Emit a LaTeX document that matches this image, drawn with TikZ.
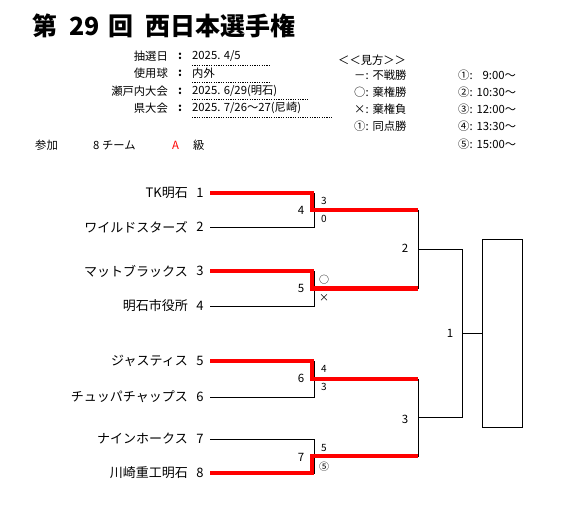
\documentclass[tikz,border=0pt]{standalone}
\usepackage{fontspec}
\setmainfont{Noto Sans CJK JP}
\begin{document}
\begin{tikzpicture}[x=1pt,y=-1pt,
  bl/.style={line width=0.8pt, black},
  win/.style={line width=4.5pt, red, line join=miter},
  tname/.style={anchor=east, inner sep=0pt, font=\fontsize{13}{13}\selectfont},
  tnum/.style={inner sep=0pt, font=\fontsize{13}{13}\selectfont},
  mnum/.style={inner sep=0pt, font=\fontsize{11.5}{11.5}\selectfont},
  score/.style={inner sep=0pt, font=\fontsize{10}{10}\selectfont},
  info/.style={inner sep=0pt, font=\fontsize{11.3}{11.3}\selectfont},
  dotl/.style={line width=0.6pt, dash pattern=on 1.2pt off 1.2pt},
]
\useasboundingbox (0,0) rectangle (563,516);
% title
\node[anchor=west, inner sep=0pt, font=\fontsize{25}{25}\selectfont\bfseries] (title) at (32,26) {第\hspace{12pt}29\hspace{9pt}回\hspace{12pt}西日本選手権};
% info
\node[info, anchor=east] (l1) at (168,56) {抽選日};
\node[info, anchor=east] (l2) at (168,73) {使用球};
\node[info, anchor=east] (l3) at (168,91) {瀬戸内大会};
\node[info, anchor=east] (l4) at (168,108) {県大会};
\foreach \y/\n in {56/c1,73/c2,91/c3,108/c4} \node[info, font=\fontsize{11.3}{11.3}\selectfont\bfseries] (\n) at (180,\y) {:};
\node[info, anchor=west] (v1) at (192,56) {2025. 4/5};
\node[info, anchor=west] (v2) at (192,73) {内外};
\node[info, anchor=west] (v3) at (192,91) {2025. 6/29(明石)};
\node[info, anchor=west] (v4) at (192,108) {2025. 7/26～27(尼崎)};
\coordinate (d1a) at (192,65); \coordinate (d1b) at (271,65);
\coordinate (d2a) at (192,82); \coordinate (d2b) at (271,82);
\coordinate (d3a) at (192,99); \coordinate (d3b) at (309,99);
\coordinate (d4a) at (192,117); \coordinate (d4b) at (333,117);
\draw[dotl] (d1a) -- (d1b);
\draw[dotl] (d2a) -- (d2b);
\draw[dotl] (d3a) -- (d3b);
\draw[dotl] (d4a) -- (d4b);
\node[info, anchor=west] (sanka) at (35,145) {参加};
\node[info, anchor=west] (teams) at (93,145) {8 チーム};
\node[info, anchor=west, text=red] (cls) at (172,145) {A};
\node[info, anchor=west] (kyu) at (193,145) {級};
% legend
\node[info, anchor=west] (lg) at (338,60) {＜＜見方＞＞};
\node[info, anchor=west] (lg1) at (354,75) {－:\hspace{4pt}不戦勝};
\node[info, anchor=west] (lg2) at (354,92) {○:\hspace{4pt}棄権勝};
\node[info, anchor=west] (lg3) at (354,109) {×:\hspace{4pt}棄権負};
\node[info, anchor=west] (lg4) at (354,126) {①:\hspace{4pt}同点勝};
\node[info, anchor=west] (tm1) at (458,75) {①:\hspace{10pt}9:00～};
\node[info, anchor=west] (tm2) at (458,92) {②:\hspace{4pt}10:30～};
\node[info, anchor=west] (tm3) at (458,109) {③:\hspace{4pt}12:00～};
\node[info, anchor=west] (tm4) at (458,126) {④:\hspace{4pt}13:30～};
\node[info, anchor=west] (tm5) at (458,144) {⑤:\hspace{4pt}15:00～};
% teams
\foreach \i/\y/\nm in {1/193/TK明石, 2/227/ワイルドスターズ, 3/271/マットブラックス, 4/306/明石市役所, 5/361/ジャスティス, 6/397/チュッパチャップス, 7/439/ナインホークス, 8/473/川崎重工明石}{
  \node[tname] (n\i) at (188,\y) {\nm};
  \node[tnum] (k\i) at (200,\y) {\i};
  \coordinate (t\i) at (210,\y);
  \coordinate (e\i) at (314,\y);
}
% match points
\coordinate (m4) at (314,210); \coordinate (m5) at (314,288.5);
\coordinate (m6) at (314,379); \coordinate (m7) at (314,456);
\coordinate (r4) at (418,210); \coordinate (r5) at (418,288.5);
\coordinate (r6) at (418,379); \coordinate (r7) at (418,456);
\coordinate (m2) at (418,249); \coordinate (m3) at (418,417.5);
\coordinate (f2) at (462,249); \coordinate (f3) at (462,417.5);
\coordinate (m1) at (462,333);
\node[draw, line width=0.8pt, minimum width=40pt, minimum height=188pt, inner sep=0pt, anchor=west] (box) at (482,333) {};
% black bracket
\draw[bl] (t1) -- (e1) -- (e2) -- (t2);
\draw[bl] (t3) -- (e3) -- (e4) -- (t4);
\draw[bl] (t5) -- (e5) -- (e6) -- (t6);
\draw[bl] (t7) -- (e7) -- (e8) -- (t8);
\draw[bl] (m4) -- (r4) -- (r5) -- (m5);
\draw[bl] (m6) -- (r6) -- (r7) -- (m7);
\draw[bl] (m2) -- (f2) -- (f3) -- (m3);
\draw[bl] (m1) -- (box.west);
% red winner paths
\draw[win] (t1) -- ([xshift=-2pt]e1) -- ([xshift=-2pt]m4) -- (r4);
\draw[win] (t3) -- ([xshift=-2pt]e3) -- ([xshift=-2pt]m5) -- (r5);
\draw[win] (t5) -- ([xshift=-2pt]e5) -- ([xshift=-2pt]m6) -- (r6);
\draw[win] (t8) -- ([xshift=-2pt]e8) -- ([xshift=-2pt]m7) -- (r7);
% match numbers
\node[mnum] (g4) at (301,210) {4};
\node[mnum] (g5) at (301,288) {5};
\node[mnum] (g6) at (301,378) {6};
\node[mnum] (g7) at (301,457) {7};
\node[mnum] (g2) at (405,248) {2};
\node[mnum] (g3) at (405,419) {3};
\node[mnum] (g1) at (450,333) {1};
% scores
\node[score] (s1) at (324,201) {3};
\node[score] (s2) at (324,219) {0};
\node[score] (s3) at (324,280) {○};
\node[score] (s4) at (324,298) {×};
\node[score] (s5) at (324,369) {4};
\node[score] (s6) at (324,387) {3};
\node[score] (s7) at (324,448) {5};
\node[score] (s8) at (324,467) {⑤};
\end{tikzpicture}
\end{document}
